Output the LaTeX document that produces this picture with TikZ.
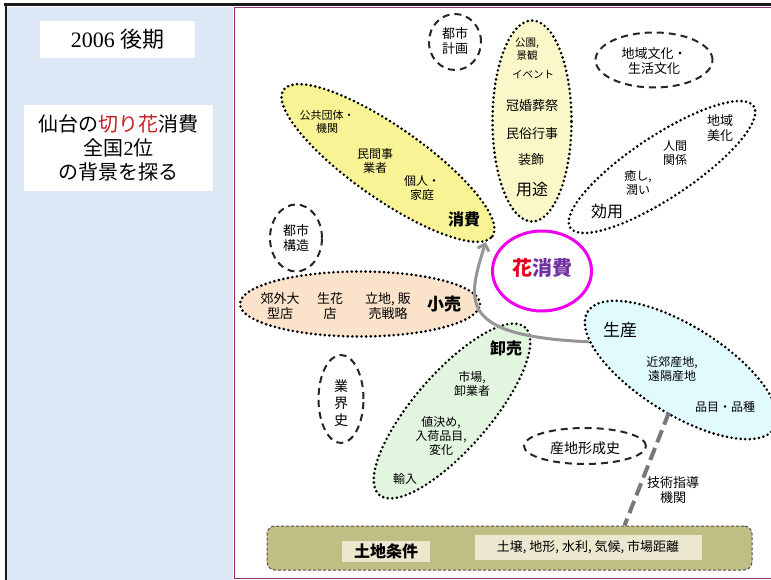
\documentclass[tikz,border=0pt]{standalone}
\usepackage{fontspec}
\setmainfont{Liberation Serif}
\newfontfamily\cjk{Noto Sans CJK JP}
\usepackage{xcolor}
\usepackage{tikz}
\usetikzlibrary{shapes.geometric,arrows.meta,positioning}

\definecolor{panelblue}{RGB}{220,232,245}
\definecolor{frameline}{RGB}{160,48,106}
\definecolor{usefill}{RGB}{250,248,200}
\definecolor{consfill}{RGB}{248,244,150}
\definecolor{retailfill}{RGB}{251,226,203}
\definecolor{wholefill}{RGB}{226,245,223}
\definecolor{prodfill}{RGB}{224,250,254}
\definecolor{landfill}{RGB}{192,190,132}
\definecolor{landinner}{RGB}{235,232,207}
\definecolor{hanared}{RGB}{228,0,30}
\definecolor{hanapurple}{RGB}{112,48,160}
\definecolor{hanaring}{RGB}{238,0,238}
\definecolor{titlered}{RGB}{200,30,30}
\definecolor{linkgray}{RGB}{150,150,150}

\begin{document}
\begin{tikzpicture}[x=1pt, y=-1pt,
    dotline/.style={draw=black, line width=2.9pt, dash pattern=on 0pt off 4.6pt, line cap=round},
    blob/.style={ellipse, dotline, inner sep=0pt},
    cloud/.style={ellipse, draw=black!85, line width=2pt, dash pattern=on 7pt off 5pt, inner sep=0pt},
    small/.style={font=\cjk\fontsize{12}{14}\selectfont, align=center, inner sep=0pt},
    tiny/.style={font=\cjk\fontsize{10.5}{12.5}\selectfont, align=center, inner sep=0pt},
    mid/.style={font=\cjk\fontsize{13}{15}\selectfont, align=center, inner sep=0pt},
    head/.style={font=\cjk\fontsize{16}{18}\selectfont, inner sep=0pt},
    boldhead/.style={font=\cjk\bfseries\fontsize{16}{18}\selectfont, inner sep=0pt},
]
\useasboundingbox (0,0) rectangle (771,580);

% Frame and left panel
\fill[panelblue] (7,7) rectangle (233,580);
\draw[frameline, line width=1pt] (234,8) rectangle (780,578);
\draw[black!90, line width=3pt] (4,5) -- (771,5);
\draw[black!90, line width=2.5pt] (6,4) -- (6,580);

\node[fill=white, minimum width=155pt, minimum height=37pt, font=\fontsize{22}{26}\selectfont] (term) at (117.5,39.5) {2006 {\cjk 後期}};
\node[fill=white, minimum width=189pt, minimum height=86pt, align=center, font=\fontsize{20}{24}\selectfont] (title) at (118.5,148)
    {{\cjk 仙台の\textcolor{titlered}{切り花}消費}\\{\cjk 全国}2{\cjk 位}\\{\cjk の背景を探る}};

% Dashed background factors
\node[cloud, minimum width=52pt, minimum height=56pt] (citypl) at (455,42) {};
\node[mid] (citypltext) at (455,41) {都市\\計画};
\node[cloud, minimum width=117pt, minimum height=55pt] (culture) at (654,60) {};
\node[mid] (culturetext) at (654,61) {地域文化・\\生活文化};
\node[cloud, minimum width=52pt, minimum height=67pt] (citystr) at (296,238) {};
\node[mid] (citystrtext) at (296,238) {都市\\構造};
\node[cloud, minimum width=45pt, minimum height=88pt] (history) at (341,399) {};
\node[mid, font=\cjk\fontsize{14}{17}\selectfont] (historytext) at (341,403) {業\\界\\史};
\node[cloud, minimum width=122pt, minimum height=36pt] (origin) at (585,446) {};
\node[mid, font=\cjk\fontsize{14}{16}\selectfont] (origintext) at (585,448) {産地形成史};

% Use (youto)
\node[blob, fill=usefill, minimum width=79pt, minimum height=201pt] (youto) at (532,121) {};
\node[tiny] (park) at (527,49) {公園,\\景観};
\node[tiny] (event) at (533,75) {イベント};
\node[mid] (ceremony) at (532,106) {冠婚葬祭};
\node[mid] (folk) at (532,134) {民俗行事};
\node[mid] (decor) at (531,160) {装飾};
\node[head] (youtolabel) at (532,189) {用途};

% Consumption (shouhi)
\node[blob, fill=consfill, minimum width=255pt, minimum height=72pt, rotate=-35] (shouhi) at (388,163) {};
\node[tiny, font=\cjk\fontsize{11}{12.5}\selectfont] (public) at (327,122) {公共団体・\\機関};
\node[small] (private) at (375,161) {民間事\\業者};
\node[small] (home) at (422,188) {個人・\\家庭};
\node[boldhead] (shouhilabel) at (464,219) {消費};

% Utility (kouyou)
\node[blob, minimum width=220pt, minimum height=62pt, rotate=33.5] (kouyou) at (662,167) {};
\node[mid] (beauty) at (720,128) {地域\\美化};
\node[small] (relation) at (675,153) {人間\\関係};
\node[small] (healing) at (638,183) {癒し,\\潤い};
\node[head] (kouyoulabel) at (607,211) {効用};

% Retail (kouri)
\node[blob, fill=retailfill, minimum width=240pt, minimum height=65pt] (kouri) at (360,304) {};
\node[mid] (suburb) at (280,306) {郊外大\\型店};
\node[mid] (florist) at (330,306) {生花\\店};
\node[mid] (strategy) at (388,306) {立地, 販\\売戦略};
\node[boldhead, font=\cjk\bfseries\fontsize{17}{19}\selectfont] (kourilabel) at (444,304) {小売};

% Flower consumption (centre)
\node[ellipse, draw=hanaring, line width=3pt, minimum width=99pt, minimum height=80pt] (hana) at (542,271) {};
\node[font=\cjk\bfseries\fontsize{20}{22}\selectfont, inner sep=0pt] (hanatext) at (542,268) {\textcolor{hanared}{花}\textcolor{hanapurple}{消費}};

% Wholesale (oroshi)
\node[blob, fill=wholefill, minimum width=222pt, minimum height=76pt, rotate=49] (oroshi) at (452,411) {};
\node[boldhead] (oroshilabel) at (506,348) {卸売};
\node[small] (market) at (472,384) {市場,\\卸業者};
\node[small] (pricing) at (441,436) {値決め,\\入荷品目,\\変化};
\node[small] (import) at (405,479) {輸入};

% Production (seisan)
\node[blob, fill=prodfill, minimum width=220pt, minimum height=88pt, rotate=-32] (seisan) at (681,370) {};
\node[head, font=\cjk\fontsize{17}{19}\selectfont] (seisanlabel) at (620,330) {生産};
\node[small] (area) at (672,369) {近郊産地,\\遠隔産地};
\node[small] (variety) at (725,407) {品目・品種};

% Land conditions
\node[rectangle, rounded corners=8pt, fill=landfill, draw=black!70, line width=1pt, dash pattern=on 3pt off 2pt, minimum width=485pt, minimum height=44pt] (land) at (509.5,548) {};
\node[fill=landinner, minimum width=88pt, minimum height=21pt, inner sep=0pt, font=\cjk\bfseries\fontsize{16}{18}\selectfont] (landtitle) at (386,551) {土地条件};
\node[fill=landinner, minimum width=227pt, minimum height=25pt, inner sep=0pt, font=\cjk\fontsize{13}{15}\selectfont] (landitems) at (588,547) {土壌, 地形, 水利, 気候, 市場距離};
\node[mid] (guidance) at (673,490) {技術指導\\機関};

% Links
\draw[linkgray!80!black, line width=4pt, dash pattern=on 13pt off 6pt] ([shift={(12,4)}]seisan.south) -- ([xshift=115pt]land.north);
\draw[linkgray, line width=3pt, -{Straight Barb[length=6pt,width=12pt]}] (seisan.195) .. controls (455,336) and (468,300) .. (shouhi.356);

\end{tikzpicture}
\end{document}
